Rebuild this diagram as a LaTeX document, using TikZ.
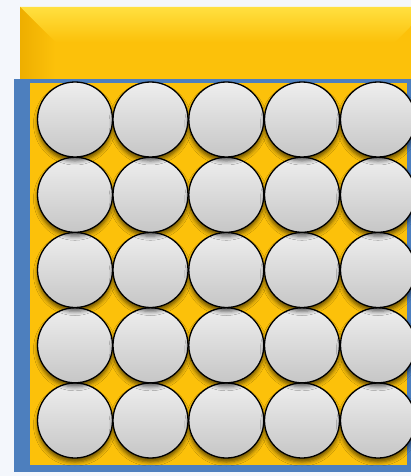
\documentclass[tikz,border=0pt]{standalone}
\usetikzlibrary{shadows.blur}
\definecolor{bgc}{HTML}{F4F7FC}
\definecolor{gold}{HTML}{FCC10A}
\definecolor{goldlight}{HTML}{FFE040}
\definecolor{golddark}{HTML}{EEAE00}
\definecolor{frameblue}{HTML}{4D7FBE}
\definecolor{ballhi}{HTML}{EEEEEE}
\definecolor{balllo}{HTML}{C6C6C6}
\tikzset{
  ball/.style={circle, minimum size=75pt, inner sep=0pt, draw=black, line width=1.3pt,
    top color=ballhi, bottom color=balllo,
    blur shadow={shadow xshift=0pt, shadow yshift=-4pt, shadow blur radius=4pt, shadow opacity=60}},
}
\begin{document}
\begin{tikzpicture}[x=1pt,y=-1pt]
\useasboundingbox (0,0) rectangle (411,476);
\fill[bgc] (0,0) rectangle (411,476);
% top bar with bevel
\fill[gold] (20,7) rectangle (430,79);
\shade[top color=goldlight, bottom color=gold] (20,7) -- (430,7) -- (395,42) -- (55,42) -- cycle;
\shade[left color=golddark, right color=gold] (20,7) -- (55,42) -- (55,79) -- (20,79) -- cycle;
% blue frame and inner yellow
\fill[frameblue] (14,79) rectangle (430,472);
\fill[gold] (30,83) rectangle (407,465);
% balls
\foreach \r/\y in {5/420.5,4/345.3,3/270,2/194.8,1/119.5}{
  \foreach \c/\x in {1/75,2/150.5,3/226.3,4/302,5/378}{
    \node[ball] (b\r\c) at (\x,\y) {};
  }
}
\end{tikzpicture}
\end{document}
